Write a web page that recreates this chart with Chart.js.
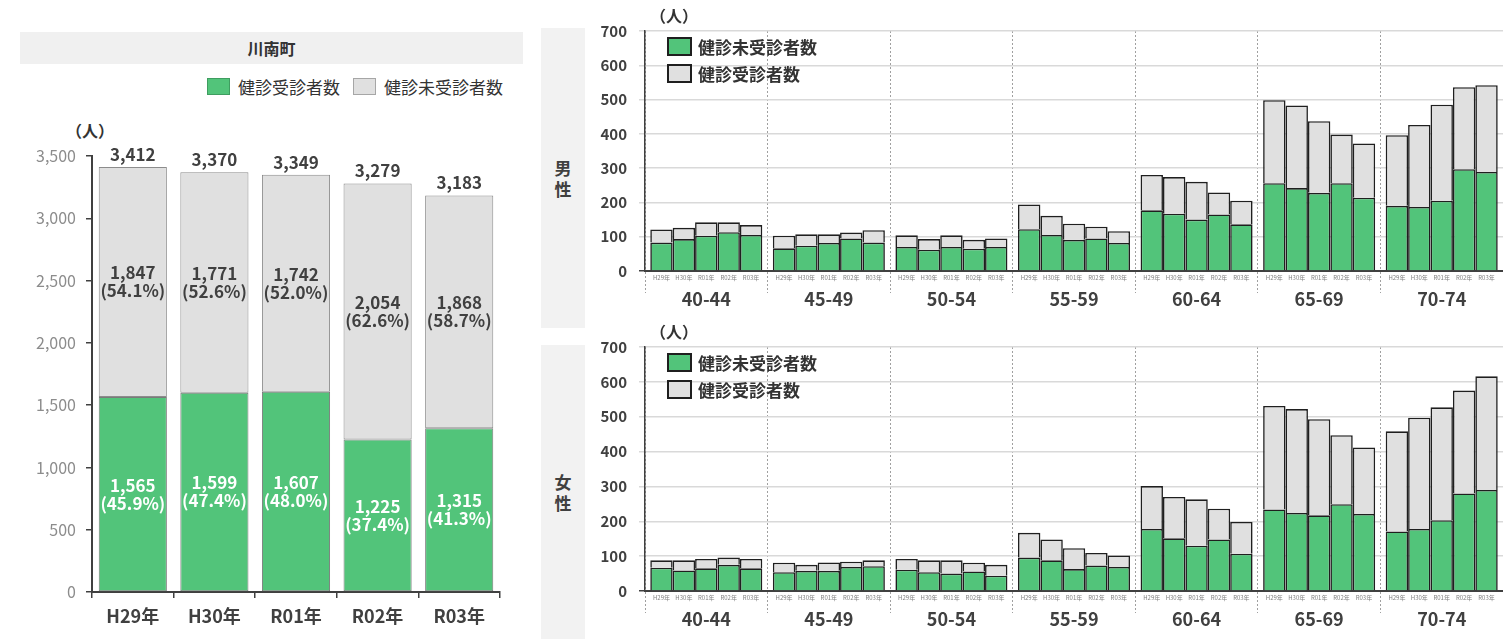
<!DOCTYPE html>
<html lang="ja">
<head>
<meta charset="utf-8">
<title>川南町 健診受診者数</title>
<script src="https://cdn.jsdelivr.net/npm/chart.js@4.4.1/dist/chart.umd.min.js"></script>
<style>
  body { margin: 0; background: #fff; font-family: 'Noto Sans CJK JP', sans-serif; color: #404040; }
  .page { position: relative; width: 1503px; height: 639px; overflow: hidden; }
  .page > * { position: absolute; }
  .town { left: 20px; top: 32px; width: 503px; height: 32px; line-height: 32px; background: #f0f0f0;
          text-align: center; font-size: 16px; font-weight: bold; color: #333; }
  .legend { left: 207px; top: 74px; display: flex; align-items: center; font-size: 17px; color: #333; }
  .legend i { display: inline-block; width: 23px; height: 17px; margin: 0 8px 0 0; box-sizing: border-box; }
  .legend span + i { margin-left: 13px; }
  .key { font-size: 17px; font-weight: bold; color: #333; }
  .key div { display: flex; align-items: center; height: 19px; margin-bottom: 8px; }
  .key i { display: inline-block; width: 25px; height: 19px; margin-right: 6px; box-sizing: border-box; border: 2px solid #1f1f1f; }
  .unit { font-size: 16px; font-weight: bold; color: #333; }
  .sex { left: 541px; width: 44px; background: #f2f2f2; display: flex; align-items: center; justify-content: center;
         font-size: 17px; font-weight: bold; line-height: 21px; text-align: center; color: #404040; }
</style>
</head>
<body>
<div class="page">
  <div class="town">川南町</div>
  <div class="legend">
    <i style="background:#52c47a;border:1px solid #3f9d60"></i><span>健診受診者数</span>
    <i style="background:#e0e0e0;border:1px solid #a6a6a6"></i><span>健診未受診者数</span>
  </div>
  <div class="unit" style="left:66px;top:118px">（人）</div>
  <canvas id="town" width="524" height="539" style="left:0;top:100px"></canvas>

  <div class="sex" style="top:28px;height:300px">男<br>性</div>
  <div class="sex" style="top:345px;height:294px">女<br>性</div>
  <canvas id="male" width="915" height="320" style="left:588px;top:0"></canvas>
  <canvas id="female" width="915" height="319" style="left:588px;top:320px"></canvas>
  <div class="unit" style="left:650px;top:3px">（人）</div>
  <div class="unit" style="left:650px;top:319px">（人）</div>
  <div class="key" style="left:667px;top:37px">
    <div><i style="background:#52c47a"></i>健診未受診者数</div>
    <div><i style="background:#e0e0e0"></i>健診受診者数</div>
  </div>
  <div class="key" style="left:667px;top:353px">
    <div><i style="background:#52c47a"></i>健診未受診者数</div>
    <div><i style="background:#e0e0e0"></i>健診受診者数</div>
  </div>
</div>

<script>
const years = ['H29年', 'H30年', 'R01年', 'R02年', 'R03年'];

// 川南町全体
const townExamined = [1565, 1599, 1607, 1225, 1315];
const townNotExamined = [1847, 1771, 1742, 2054, 1868];

// 年齢階級別（行: 年度, 列: 年齢階級）
const ageGroups = ['40-44', '45-49', '50-54', '55-59', '60-64', '65-69', '70-74'];

const maleNotExamined = [
  [83, 66, 70, 122, 177, 256, 190],
  [93, 74, 62, 105, 167, 242, 187],
  [103, 82, 70, 91, 150, 228, 205],
  [113, 95, 65, 95, 165, 256, 297],
  [105, 83, 70, 82, 136, 214, 289]
];
const maleExamined = [
  [38, 37, 34, 72, 103, 242, 206],
  [33, 33, 31, 56, 107, 241, 239],
  [39, 25, 34, 47, 110, 209, 280],
  [29, 17, 26, 34, 64, 142, 239],
  [29, 36, 25, 34, 69, 158, 253]
];
const femaleNotExamined = [
  [67, 54, 61, 96, 178, 234, 171],
  [59, 58, 54, 88, 151, 224, 178],
  [65, 58, 50, 63, 130, 217, 203],
  [75, 69, 56, 73, 148, 249, 280],
  [65, 71, 44, 69, 107, 221, 290]
];
const femaleExamined = [
  [21, 27, 31, 71, 123, 297, 287],
  [29, 17, 34, 60, 119, 298, 319],
  [27, 24, 38, 60, 133, 276, 324],
  [21, 15, 25, 36, 88, 198, 295],
  [27, 17, 31, 33, 91, 191, 326]
];

const GREEN = '#52c47a';
const GREY = '#e0e0e0';
const FONT = '"Noto Sans CJK JP", sans-serif';
const fmt = v => v.toLocaleString('en-US');

Chart.defaults.font.family = FONT;

// 棒の上に合計、各区分の中に人数と割合
const townLabels = {
  id: 'townLabels',
  afterDatasetsDraw(chart) {
    const ctx = chart.ctx;
    const low = chart.getDatasetMeta(0).data;
    const high = chart.getDatasetMeta(1).data;
    ctx.save();
    ctx.textAlign = 'center';
    years.forEach((_, i) => {
      const total = townExamined[i] + townNotExamined[i];
      ctx.font = 'bold 17px ' + FONT;
      ctx.fillStyle = '#404040';
      ctx.textBaseline = 'bottom';
      ctx.fillText(fmt(total), high[i].x, high[i].y - 4);

      ctx.textBaseline = 'middle';
      [[low[i], townExamined[i], '#fff'], [high[i], townNotExamined[i], '#404040']].forEach(([bar, v, color]) => {
        const mid = (bar.y + bar.base) / 2;
        ctx.fillStyle = color;
        ctx.fillText(fmt(v), bar.x, mid - 9);
        ctx.fillText('(' + (v / total * 100).toFixed(1) + '%)', bar.x, mid + 9);
      });
    });
    ctx.restore();
  }
};

new Chart(document.getElementById('town'), {
  type: 'bar',
  data: {
    labels: years,
    datasets: [
      { label: '健診受診者数', data: townExamined, backgroundColor: GREEN, borderColor: '#7a7a7a' },
      { label: '健診未受診者数', data: townNotExamined, backgroundColor: GREY, borderColor: '#8c8c8c' }
    ]
  },
  options: {
    responsive: false,
    animation: false,
    layout: { padding: { top: 56, right: 24, left: 0, bottom: 0 } },
    datasets: { bar: { barPercentage: 0.835, categoryPercentage: 1, borderWidth: 1, borderSkipped: false } },
    plugins: { legend: { display: false }, tooltip: { enabled: false } },
    scales: {
      x: {
        stacked: true,
        grid: { drawOnChartArea: false, tickLength: 6, color: '#404040', lineWidth: 1.5 },
        border: { color: '#404040', width: 2 },
        ticks: { color: '#404040', font: { size: 18, weight: 'bold' }, padding: 7 },
        afterFit: s => { s.height = 47; }
      },
      y: {
        stacked: true,
        min: 0,
        max: 3500,
        ticks: { stepSize: 500, color: '#8c8c8c', font: { size: 16 }, padding: 10, callback: v => fmt(v) },
        grid: { drawOnChartArea: false, tickLength: 6, color: '#404040', lineWidth: 1.5 },
        border: { color: '#404040', width: 2 },
        afterFit: s => { s.width = 92; }
      }
    }
  },
  plugins: [townLabels]
});

// 各棒の下に年度の小さなラベル
const yearLabels = {
  id: 'yearLabels',
  afterDraw(chart) {
    const { ctx, chartArea } = chart;
    ctx.save();
    ctx.font = '6px ' + FONT;
    ctx.fillStyle = '#808080';
    ctx.textAlign = 'center';
    ctx.textBaseline = 'middle';
    years.forEach((yr, i) => {
      chart.getDatasetMeta(i * 2).data.forEach(bar => ctx.fillText(yr, bar.x, chartArea.bottom + 7));
    });
    ctx.restore();
  }
};

function ageChart(id, notExamined, examined, padTop, axisHeight) {
  const datasets = [];
  years.forEach((yr, i) => {
    datasets.push({ label: '健診未受診者数', data: notExamined[i], backgroundColor: GREEN, stack: yr });
    datasets.push({ label: '健診受診者数', data: examined[i], backgroundColor: GREY, stack: yr });
  });

  return new Chart(document.getElementById(id), {
    type: 'bar',
    data: { labels: ageGroups, datasets },
    options: {
      responsive: false,
      animation: false,
      layout: { padding: { top: padTop, right: 0, left: 0, bottom: 0 } },
      datasets: { bar: { categoryPercentage: 0.914, barPercentage: 1, borderColor: '#1f1f1f', borderWidth: 1.6 } },
      plugins: { legend: { display: false }, tooltip: { enabled: false } },
      scales: {
        x: {
          stacked: true,
          grid: { color: '#a0a0a0', lineWidth: 1, tickLength: 22, tickBorderDash: [2, 2] },
          border: { color: '#404040', width: 2, dash: [2, 2] },
          ticks: { color: '#404040', font: { size: 18, weight: 'bold' }, padding: -5 },
          afterFit: s => { s.height = axisHeight; }
        },
        y: {
          stacked: true,
          min: 0,
          max: 700,
          ticks: { stepSize: 100, color: '#404040', font: { size: 15, weight: 'bold' }, padding: 12 },
          grid: {
            color: c => (c.tick && c.tick.value === 0 ? '#404040' : '#d9d9d9'),
            lineWidth: 1.5,
            tickLength: 6
          },
          border: { color: '#404040', width: 1.5 },
          afterFit: s => { s.width = 57; }
        }
      }
    },
    plugins: [yearLabels]
  });
}

ageChart('male', maleNotExamined, maleExamined, 31, 49);
ageChart('female', femaleNotExamined, femaleExamined, 27, 48);
</script>
</body>
</html>
